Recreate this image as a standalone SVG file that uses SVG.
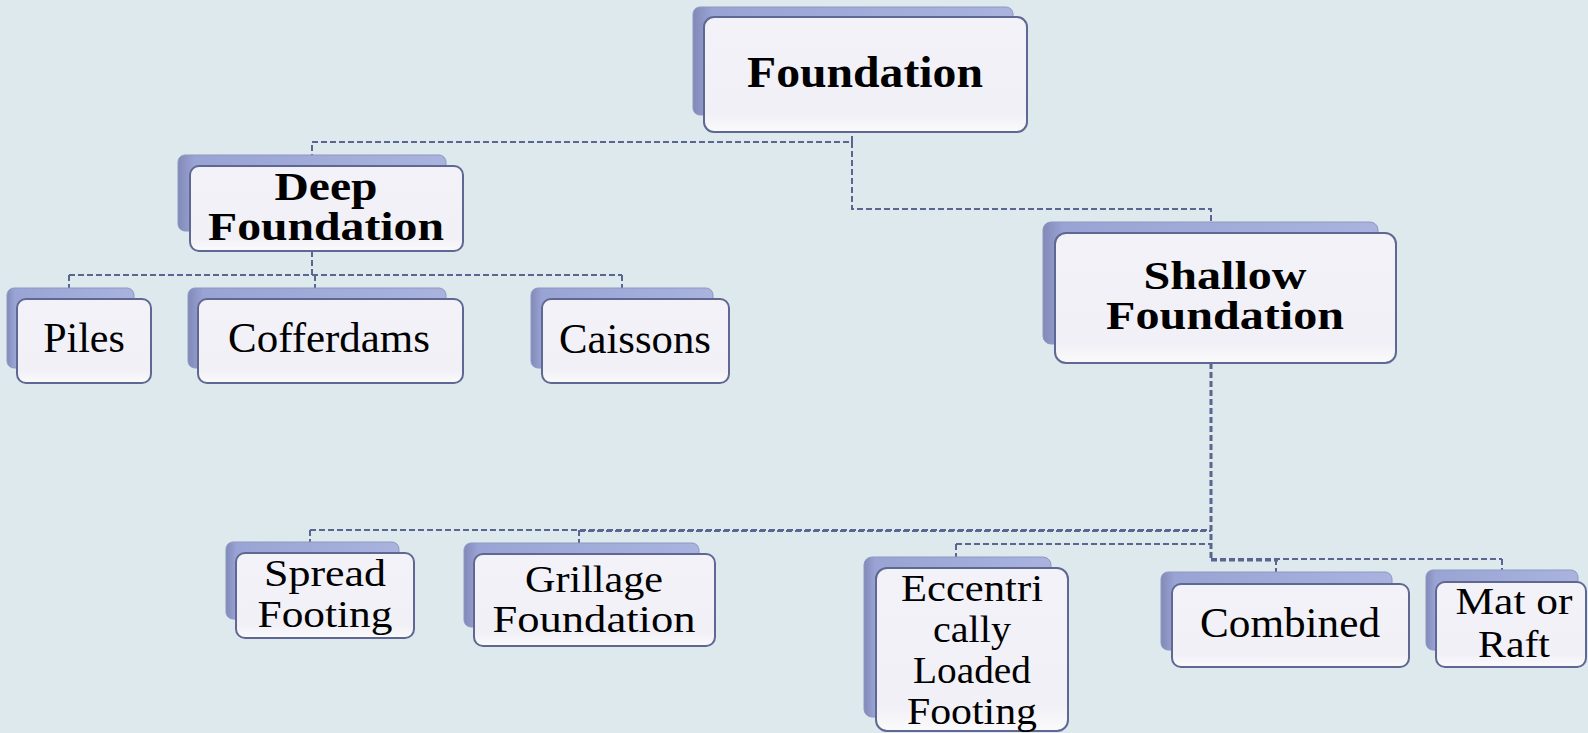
<svg xmlns="http://www.w3.org/2000/svg" width="1588" height="733" viewBox="0 0 1588 733">
<defs>
<linearGradient id="plate" x1="0" y1="0" x2="1" y2="0">
<stop offset="0" stop-color="#8189b8"/>
<stop offset="0.06" stop-color="#9aa4d4"/>
<stop offset="1" stop-color="#a9b3de"/>
</linearGradient>
<linearGradient id="face" x1="0" y1="0" x2="0" y2="1">
<stop offset="0" stop-color="#f2f2f8"/>
<stop offset="0.85" stop-color="#f0f0f6"/>
<stop offset="1" stop-color="#fbfbfd"/>
</linearGradient>
</defs>
<style>
.plate{fill:url(#plate);stroke:#8e97c0;stroke-width:1}
.face{fill:url(#face);stroke:#5f6892;stroke-width:2}
.c{fill:none;stroke:#5a6590;stroke-width:2;stroke-dasharray:6,3}
.b{font-family:"Liberation Serif","Times New Roman",serif;font-weight:bold;font-size:44px;fill:#000;text-anchor:middle}
.b2{font-family:"Liberation Serif","Times New Roman",serif;font-weight:bold;font-size:39px;fill:#000;text-anchor:middle}
.r{font-family:"Liberation Serif","Times New Roman",serif;font-size:42px;fill:#000;text-anchor:middle}
.r2{font-family:"Liberation Serif","Times New Roman",serif;font-size:38px;fill:#000;text-anchor:middle}
</style>
<rect width="1588" height="733" fill="#dee9ed"/>
<g id="connectors">
<path class="c" d="M852,118 V142 H312 V155"/>
<path class="c" d="M852,142 V209 H1211 V222"/>
<path class="c" d="M312,251 V275 M69,275 H622 M69,275 V288 M315,275 V288 M622,275 V288"/>
<path class="c" d="M1211,363 V559" style="stroke-width:3"/>
<path class="c" d="M310,530 H1211 M310,530 V542 M579,530 V543"/>
<path class="c" d="M579,531 H1211"/>
<path class="c" d="M956,544 H1211 M956,544 V557"/>
<path class="c" d="M1211,559 H1502 M1276,559 V572 M1502,559 V570"/>
<path class="c" d="M1211,560 H1278" style="stroke-width:3"/>
</g>
<g id="n-foundation">
<rect class="plate" x="693" y="7" width="320" height="108" rx="7"/>
<rect class="face" x="704" y="17" width="323" height="115" rx="10"/>
<text class="b" x="865" y="87" textLength="236" lengthAdjust="spacingAndGlyphs">Foundation</text>
</g>
<g id="n-deep">
<rect class="plate" x="178" y="155" width="268" height="76" rx="7"/>
<rect class="face" x="190" y="166" width="273" height="85" rx="9"/>
<text class="b2" x="326" y="200" textLength="103" lengthAdjust="spacingAndGlyphs">Deep</text>
<text class="b2" x="326" y="240" textLength="236" lengthAdjust="spacingAndGlyphs">Foundation</text>
</g>
<g id="n-shallow">
<rect class="plate" x="1043" y="222" width="335" height="122" rx="8"/>
<rect class="face" x="1055" y="233" width="341" height="130" rx="11"/>
<text class="b2" x="1225" y="289" textLength="163" lengthAdjust="spacingAndGlyphs">Shallow</text>
<text class="b2" x="1225" y="329" textLength="238" lengthAdjust="spacingAndGlyphs">Foundation</text>
</g>
<g id="n-piles">
<rect class="plate" x="7" y="288" width="127" height="80" rx="7"/>
<rect class="face" x="17" y="299" width="134" height="84" rx="9"/>
<text class="r" x="84" y="352">Piles</text>
</g>
<g id="n-cofferdams">
<rect class="plate" x="188" y="288" width="258" height="80" rx="7"/>
<rect class="face" x="198" y="299" width="265" height="84" rx="9"/>
<text class="r" x="329" y="352" textLength="202" lengthAdjust="spacingAndGlyphs">Cofferdams</text>
</g>
<g id="n-caissons">
<rect class="plate" x="531" y="288" width="182" height="80" rx="7"/>
<rect class="face" x="542" y="299" width="187" height="84" rx="9"/>
<text class="r" x="635" y="353" textLength="152" lengthAdjust="spacingAndGlyphs">Caissons</text>
</g>
<g id="n-spread">
<rect class="plate" x="226" y="542" width="173" height="77" rx="7"/>
<rect class="face" x="236" y="553" width="178" height="85" rx="9"/>
<text class="r2" x="325" y="586" textLength="122" lengthAdjust="spacingAndGlyphs">Spread</text>
<text class="r2" x="325" y="627" textLength="135" lengthAdjust="spacingAndGlyphs">Footing</text>
</g>
<g id="n-grillage">
<rect class="plate" x="464" y="543" width="235" height="84" rx="7"/>
<rect class="face" x="474" y="554" width="241" height="92" rx="9"/>
<text class="r2" x="594" y="592" textLength="138" lengthAdjust="spacingAndGlyphs">Grillage</text>
<text class="r2" x="594" y="632" textLength="203" lengthAdjust="spacingAndGlyphs">Foundation</text>
</g>
<g id="n-eccentric">
<rect class="plate" x="864" y="557" width="187" height="160" rx="8"/>
<rect class="face" x="876" y="568" width="192" height="163" rx="11"/>
<text class="r2" x="972" y="601" textLength="142" lengthAdjust="spacingAndGlyphs">Eccentri</text>
<text class="r2" x="972" y="642" textLength="78" lengthAdjust="spacingAndGlyphs">cally</text>
<text class="r2" x="972" y="683" textLength="118" lengthAdjust="spacingAndGlyphs">Loaded</text>
<text class="r2" x="972" y="724" textLength="130" lengthAdjust="spacingAndGlyphs">Footing</text>
</g>
<g id="n-combined">
<rect class="plate" x="1161" y="572" width="231" height="78" rx="7"/>
<rect class="face" x="1172" y="584" width="237" height="83" rx="9"/>
<text class="r" x="1290" y="637" textLength="180" lengthAdjust="spacingAndGlyphs">Combined</text>
</g>
<g id="n-mat">
<rect class="plate" x="1426" y="570" width="152" height="80" rx="7"/>
<rect class="face" x="1436" y="582" width="150" height="85" rx="9"/>
<text class="r2" x="1514" y="614" textLength="117" lengthAdjust="spacingAndGlyphs">Mat or</text>
<text class="r2" x="1514" y="657" textLength="72" lengthAdjust="spacingAndGlyphs">Raft</text>
</g>
</svg>
